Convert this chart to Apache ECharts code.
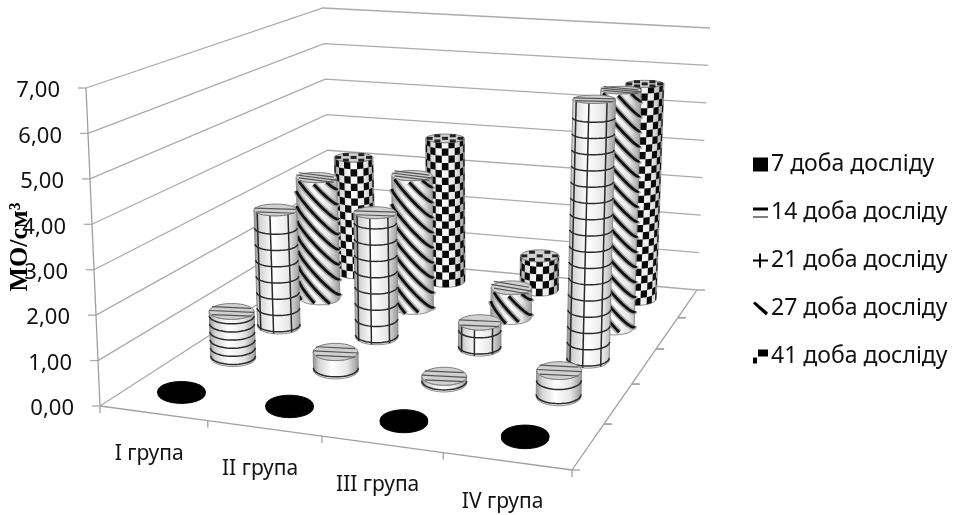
<!DOCTYPE html>
<html>
<head>
    <meta charset="UTF-8">
    <title></title>
    <style>html,body{margin:0;padding:0;background:#fff}</style>
</head>
<body>
    <div id="chart" style="width:959px;height:515px;filter:blur(0.5px);"></div>
    <script src="https://cdn.jsdelivr.net/npm/echarts@6/dist/echarts.min.js"></script>
    <script type="text/javascript">
        var groups = ['I група', 'II група', 'III група', 'IV група'];
        var seriesNames = ['7 доба досліду', '14 доба досліду', '21 доба досліду', '27 доба досліду', '41 доба досліду'];
        var yTicks = [0, 1, 2, 3, 4, 5, 6, 7];
        var yTickLabels = ['0,00', '1,00', '2,00', '3,00', '4,00', '5,00', '6,00', '7,00'];
        var day7 = [0.05, 0.05, 0.05, 0.05];
        var day14 = [1.1, 0.42, 0.15, 0.58];
        var day21 = [2.9, 3.05, 0.62, 6.2];
        var day27 = [3.15, 3.4, 0.75, 5.95];
        var day41 = [3.15, 3.85, 0.9, 5.65];
        var values = [day7, day14, day21, day27, day41];
        var yMax = 7;

        var font = '"Noto Sans", sans-serif';

        // camera: where the corners of the 3d box land on the page (front-left, front-right, back-right, back-left)
        var floorQuad = [[100, 406], [572, 470], [697, 290], [331, 257]];
        var roofQuad = [[86, 88], [579, 125], [710, 28], [323, 8]];

        function homography(q) {
            var dx1 = q[1][0] - q[2][0], dx2 = q[3][0] - q[2][0], sx = q[0][0] - q[1][0] + q[2][0] - q[3][0];
            var dy1 = q[1][1] - q[2][1], dy2 = q[3][1] - q[2][1], sy = q[0][1] - q[1][1] + q[2][1] - q[3][1];
            var det = dx1 * dy2 - dx2 * dy1;
            var g = (sx * dy2 - dx2 * sy) / det, h = (dx1 * sy - sx * dy1) / det;
            var a = q[1][0] - q[0][0] + g * q[1][0], b = q[3][0] - q[0][0] + h * q[3][0];
            var d = q[1][1] - q[0][1] + g * q[1][1], e = q[3][1] - q[0][1] + h * q[3][1];
            return function (u, v) {
                var w = g * u + h * v + 1;
                return [(a * u + b * v + q[0][0]) / w, (d * u + e * v + q[0][1]) / w];
            };
        }
        var floorMap = homography(floorQuad), roofMap = homography(roofQuad);

        // group position, series position, value -> plane units of the hidden axes
        function project(g, s, val) {
            var u = g / groups.length, v = s / seriesNames.length, t = val / yMax;
            var f = floorMap(u, v), r = roofMap(u, v);
            return [f[0] + (r[0] - f[0]) * t, f[1] + (r[1] - f[1]) * t];
        }

        var sideFill = new echarts.graphic.LinearGradient(0, 0, 1, 0, [
            {offset: 0, color: '#8c8c8c'}, {offset: 0.14, color: '#d4d4d4'}, {offset: 0.42, color: '#ffffff'},
            {offset: 0.75, color: '#e6e6e6'}, {offset: 1, color: '#959595'}
        ]);

        function flat(rx, y) {
            return rx * (0.12 + 0.00075 * y);
        }

        function renderCylinder(params, api) {
            var g = api.value(0), s = api.value(1), val = api.value(2);
            var base = api.coord(project(g + 0.5, s + 0.5, 0));
            var top = api.coord(project(g + 0.5, s + 0.5, val));
            // same radius along a row
            var a = api.coord(project(0, s + 0.5, 0)), b = api.coord(project(groups.length, s + 0.5, 0));
            var rx = 0.205 * Math.sqrt((a[0] - b[0]) * (a[0] - b[0]) + (a[1] - b[1]) * (a[1] - b[1])) / groups.length;
            var kids = [];

            function surf(th, yc) {
                var t = (yc - top[1]) / (base[1] - top[1]);
                return [top[0] + (base[0] - top[0]) * t + rx * Math.sin(th), yc + flat(rx, yc) * Math.cos(th)];
            }
            function addLine(pts, color, w) {
                kids.push({type: 'polyline', shape: {points: pts}, style: {fill: null, stroke: color, lineWidth: w}});
            }

            // side of the cylinder
            var side = [], th, k, n = 24;
            for (k = 0; k <= n; k++) {
                side.push(surf(Math.PI / 2 - Math.PI * k / n, base[1]));
            }
            for (k = 0; k <= n; k++) {
                side.push(surf(-Math.PI / 2 + Math.PI * k / n, top[1]));
            }
            var solid = s === 0;
            kids.push({type: 'polygon', shape: {points: side}, style: {fill: solid ? '#000' : sideFill, stroke: solid ? '#000' : '#8c8c8c', lineWidth: 1}});

            var arc, y;
            if (s === 1 || s === 2) {
                var gap = s === 2 ? 16 : (val < 1 ? 14 : 8);
                for (y = base[1] - 2; y > top[1] + 4; y -= gap) {
                    arc = [];
                    for (k = 0; k <= n; k++) {
                        arc.push(surf(-Math.PI / 2 + Math.PI * k / n, y));
                    }
                    addLine(arc, '#2a2a2a', 1.5);
                }
            }
            if (s === 2) {
                [-0.85, -0.25, 0.6].forEach(function (q) {
                    var th0 = Math.asin(q);
                    addLine([surf(th0, top[1]), surf(th0, base[1])], '#2a2a2a', 1.5);
                });
            }
            if (s === 3) {
                var slope = 1.05, period = 15, x;
                for (y = top[1] - 2 * rx; y < base[1] + 2 * rx; y += period) {
                    arc = [];
                    for (k = 0; k <= n; k++) {
                        th = -Math.PI / 2 + Math.PI * k / n;
                        x = rx * Math.sin(th);
                        var yc = y + slope * x;
                        if (yc >= top[1] && yc <= base[1]) {
                            arc.push(surf(th, yc));
                        }
                    }
                    if (arc.length > 1) {
                        addLine(arc, '#a8a8a8', 6);
                        addLine(arc, '#111', 2.8);
                    }
                }
            }
            if (s === 4) {
                var cell = 7.2, cols = Math.ceil(Math.PI * rx / cell), rows = Math.ceil((base[1] - top[1]) / cell);
                for (var c = 0; c < cols; c++) {
                    for (var r = 0; r < rows; r++) {
                        if ((c + r) % 2 === 0) {
                            var t0 = -Math.PI / 2 + Math.PI * c / cols, t1 = -Math.PI / 2 + Math.PI * (c + 1) / cols;
                            var y0 = base[1] - r * cell, y1 = Math.max(top[1], base[1] - (r + 1) * cell);
                            kids.push({type: 'polygon', shape: {points: [surf(t0, y0), surf(t1, y0), surf(t1, y1), surf(t0, y1)]}, style: {fill: '#0a0a0a'}});
                        }
                    }
                }
            }

            // lid
            var ry = flat(rx, top[1]);
            kids.push({type: 'ellipse', shape: {cx: top[0], cy: top[1], rx: rx, ry: ry}, style: {fill: solid ? '#000' : '#d0d0d0', stroke: solid ? '#000' : '#808080', lineWidth: 1}});
            if (s === 1 || s === 2 || s === 3) {
                (s === 2 ? [-0.2, 0.45] : [-0.5, 0, 0.5]).forEach(function (q) {
                    var half = Math.sqrt(1 - q * q), tilt = s === 3 ? 0.5 : 0.12;
                    addLine([[top[0] - rx * half, top[1] + ry * (q - tilt * half)], [top[0] + rx * half, top[1] + ry * (q + tilt * half)]], '#555', 1.2);
                });
            }
            if (s === 4) {
                for (var cu = -0.8; cu < 0.9; cu += 0.4) {
                    for (var cv = -0.6; cv < 0.7; cv += 0.6) {
                        if (cu * cu + cv * cv < 0.75 && Math.round(cu / 0.4 + cv / 0.6) % 2 === 0) {
                            kids.push({type: 'rect', shape: {x: top[0] + cu * rx - 3, y: top[1] + cv * ry - 1.5, width: 6, height: 3}, style: {fill: '#222'}});
                        }
                    }
                }
            }
            return {type: 'group', children: kids};
        }

        function pt(api, g, s, v, dx, dy) {
            var c = api.coord(project(g, s, v));
            return [c[0] + (dx || 0), c[1] + (dy || 0)];
        }

        // walls: grid lines, ticks and labels of the value axis
        function renderWall(params, api) {
            var v = api.value(0), i = params.dataIndex;
            var nG = groups.length, nS = seriesNames.length;
            var lineStyle = {fill: null, stroke: '#ababab', lineWidth: 1.3};
            var p = pt(api, 0, 0, v);
            return {type: 'group', children: [
                {type: 'polyline', shape: {points: [p, pt(api, 0, nS, v), pt(api, nG, nS, v)]}, style: lineStyle},
                {type: 'line', shape: {x1: p[0] - 8, y1: p[1], x2: p[0], y2: p[1]}, style: lineStyle},
                {type: 'text', x: p[0] - 26, y: p[1] + 3, style: {text: yTickLabels[i], fill: '#111', font: '22px ' + font, align: 'right', verticalAlign: 'middle'}}
            ]};
        }

        // floor: edges, ticks and category labels
        function renderFloor(params, api) {
            var i = params.dataIndex, nG = groups.length, nS = seriesNames.length;
            var lineStyle = {fill: null, stroke: '#a0a0a0', lineWidth: 1.3};
            var kids = [];
            var p = pt(api, i, 0, 0), q = pt(api, i + 1, 0, 0);
            kids.push({type: 'line', shape: {x1: p[0], y1: p[1], x2: q[0], y2: q[1]}, style: lineStyle});
            kids.push({type: 'line', shape: {x1: q[0], y1: q[1], x2: q[0], y2: q[1] + 7}, style: lineStyle});
            if (i === 0) {
                kids.push({type: 'line', shape: {x1: p[0], y1: p[1], x2: p[0], y2: p[1] + 7}, style: lineStyle});
                var t = pt(api, 0, 0, yMax);
                kids.push({type: 'line', shape: {x1: p[0], y1: p[1], x2: t[0], y2: t[1]}, style: lineStyle});
                for (var s = 0; s < nS; s++) {
                    var e0 = pt(api, nG, s, 0), e1 = pt(api, nG, s + 1, 0);
                    kids.push({type: 'line', shape: {x1: e0[0], y1: e0[1], x2: e1[0], y2: e1[1]}, style: lineStyle});
                    kids.push({type: 'line', shape: {x1: e0[0], y1: e0[1], x2: e0[0] + 8, y2: e0[1]}, style: lineStyle});
                    kids.push({type: 'line', shape: {x1: e1[0], y1: e1[1], x2: e1[0] + 8, y2: e1[1]}, style: lineStyle});
                }
            }
            var l = pt(api, i + 0.5, 0, 0, -4, 41);
            kids.push({type: 'text', x: l[0], y: l[1], style: {text: groups[i], fill: '#111', font: '21px ' + font, align: 'center', verticalAlign: 'middle'}});
            return {type: 'group', children: kids};
        }

        var chart = echarts.init(document.getElementById('chart'));

        var series = [
            {type: 'custom', renderItem: renderWall, data: yTicks.map(function (v) { return [v]; }), silent: true, clip: false, z: 1},
            {type: 'custom', renderItem: renderFloor, data: groups.map(function (g, i) { return [i]; }), silent: true, clip: false, z: 1}
        ];
        // back row first so the front rows cover it
        for (var j = seriesNames.length - 1; j >= 0; j--) {
            series.push({
                name: seriesNames[j],
                type: 'custom',
                renderItem: renderCylinder,
                itemStyle: {color: '#000'},
                data: values[j].map(function (v, i) { return [i, j, v]; }),
                silent: true,
                clip: false,
                z: 2
            });
        }

        var option = {
            animation: false,
            backgroundColor: '#fff',
            grid: {left: 0, right: 0, top: 0, bottom: 0},
            xAxis: {type: 'value', min: 0, max: 959, show: false},
            yAxis: {type: 'value', min: 0, max: 515, inverse: true, show: false},
            legend: {
                orient: 'vertical',
                left: 748,
                top: 148,
                itemWidth: 15,
                itemHeight: 14,
                itemGap: 25,
                selectedMode: false,
                textStyle: {fontFamily: font, fontSize: 23, color: '#111', lineHeight: 14, padding: [0, 0, 0, -2]},
                data: [
                    {name: seriesNames[0], icon: 'path://M0 0H15V14H0Z'},
                    {name: seriesNames[1], icon: 'path://M0 0H15V3H0Z M0 9H15V10H0Z'},
                    {name: seriesNames[2], icon: 'path://M0 6H6V0H8V6H15V8H8V14H6V8H0Z'},
                    {name: seriesNames[3], icon: 'path://M0 2L2 0L15 11L13 14Z'},
                    {name: seriesNames[4], icon: 'path://M5 0H15V7H5Z M0 8H4V14H0Z'}
                ]
            },
            graphic: [
                {type: 'text', x: 20, y: 247, rotation: Math.PI / 2, z: 10, style: {text: 'МО/см³', fill: '#000', font: 'bold 26px "Liberation Serif", serif', align: 'center', verticalAlign: 'middle'}}
            ],
            series: series
        };
        chart.setOption(option);
    </script>
</body>
</html>
